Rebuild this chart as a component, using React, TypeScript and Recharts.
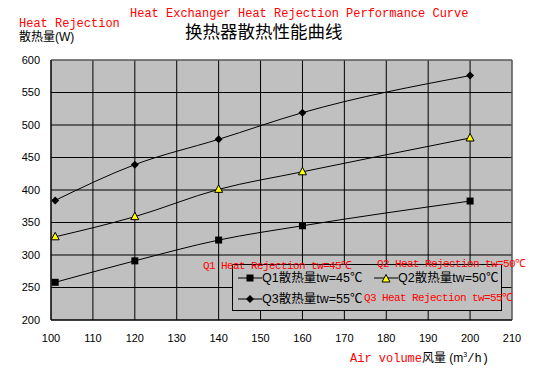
import React from "react";
import {
  LineChart,
  Line,
  XAxis,
  YAxis,
  CartesianGrid,
  ReferenceLine,
} from "recharts";

// air volume (m3/h) and heat rejection (W) per water temperature
const airVolume = [101, 120, 140, 160, 200];
const q1Values = [258, 291, 323, 345, 383];
const q2Values = [328, 359, 401, 428, 480];
const q3Values = [384, 439, 478, 519, 576];

const xTicks = [100, 110, 120, 130, 140, 150, 160, 170, 180, 190, 200, 210];
const yTicks = [200, 250, 300, 350, 400, 450, 500, 550, 600];

const chartData = airVolume.map((v, i) => ({
  air: v,
  q1: q1Values[i],
  q2: q2Values[i],
  q3: q3Values[i],
}));

const MONO = "'Liberation Mono', 'DejaVu Sans Mono', monospace";
const CJK = "'Liberation Sans', 'Noto Sans CJK SC', sans-serif";

function SquareDot(props: any) {
  const { cx, cy } = props;
  if (cx == null || cy == null) return null;
  return <rect x={cx - 3.5} y={cy - 3.5} width={7} height={7} fill="#000" />;
}

function TriangleDot(props: any) {
  const { cx, cy } = props;
  if (cx == null || cy == null) return null;
  return (
    <polygon
      points={`${cx},${cy - 4.5} ${cx - 4},${cy + 3} ${cx + 4},${cy + 3}`}
      fill="#ffff00"
      stroke="#000"
      strokeWidth={1}
    />
  );
}

function DiamondDot(props: any) {
  const { cx, cy } = props;
  if (cx == null || cy == null) return null;
  return (
    <polygon
      points={`${cx},${cy - 4} ${cx + 4},${cy} ${cx},${cy + 4} ${cx - 4},${cy}`}
      fill="#000"
    />
  );
}

function LegendIcon({ kind }: { kind: "square" | "triangle" | "diamond" }) {
  return (
    <svg width={24} height={12} style={{ display: "block" }}>
      <line x1={0} y1={6} x2={24} y2={6} stroke="#000" strokeWidth={1} />
      {kind === "square" && <SquareDot cx={12} cy={6} />}
      {kind === "triangle" && <TriangleDot cx={12} cy={7} />}
      {kind === "diamond" && <DiamondDot cx={12} cy={6} />}
    </svg>
  );
}

const abs = (left: number, top: number, extra: React.CSSProperties = {}): React.CSSProperties => ({
  position: "absolute",
  left,
  top,
  whiteSpace: "nowrap",
  lineHeight: 1,
  ...extra,
});

const redNote: React.CSSProperties = {
  color: "#ff0000",
  fontFamily: MONO,
  fontSize: 11,
  letterSpacing: -0.6,
};

export default function App() {
  const tickStyle = { fontSize: 11, fill: "#000", fontFamily: "'Liberation Sans', Arial, sans-serif" };

  return (
    <div style={{ position: "fixed", left: 0, top: 0, width: 541, height: 375, background: "#fff" }}>
      <LineChart
        width={541}
        height={375}
        data={chartData}
        margin={{ top: 60, right: 29, left: 0, bottom: 0 }}
      >
        <CartesianGrid fill="#c0c0c0" stroke="#000" strokeOpacity={1} />
        <XAxis
          dataKey="air"
          type="number"
          domain={[100, 210]}
          ticks={xTicks}
          height={55}
          tickLine={false}
          tickSize={0}
          tickMargin={14}
          axisLine={{ stroke: "#000" }}
          tick={tickStyle}
          interval={0}
        />
        <YAxis
          type="number"
          domain={[200, 600]}
          ticks={yTicks}
          width={51}
          tickLine={false}
          tickSize={0}
          tickMargin={11}
          axisLine={{ stroke: "#000" }}
          tick={tickStyle}
          interval={0}
        />
        <ReferenceLine y={600} stroke="#808080" />
        <ReferenceLine x={210} stroke="#808080" />
        <Line
          type="monotone"
          dataKey="q1"
          stroke="#000"
          strokeWidth={1}
          dot={<SquareDot />}
          activeDot={false}
          isAnimationActive={false}
        />
        <Line
          type="monotone"
          dataKey="q2"
          stroke="#000"
          strokeWidth={1}
          dot={<TriangleDot />}
          activeDot={false}
          isAnimationActive={false}
        />
        <Line
          type="monotone"
          dataKey="q3"
          stroke="#000"
          strokeWidth={1}
          dot={<DiamondDot />}
          activeDot={false}
          isAnimationActive={false}
        />
      </LineChart>

      {/* titles */}
      <div style={abs(130, 8, { color: "#ff0000", fontFamily: MONO, fontSize: 12 })}>
        Heat Exchanger Heat Rejection Performance Curve
      </div>
      <div style={abs(19, 18, { color: "#ff0000", fontFamily: MONO, fontSize: 12 })}>Heat Rejection</div>
      <div style={abs(19, 31, { color: "#000", fontFamily: CJK, fontSize: 12 })}>散热量(W)</div>
      <div style={abs(185, 24, { color: "#000", fontFamily: CJK, fontSize: 17.5 })}>换热器散热性能曲线</div>

      {/* x axis title */}
      <div style={abs(350, 351, { fontSize: 12 })}>
        <span style={{ color: "#ff0000", fontFamily: MONO }}>Air volume</span>
        <span style={{ color: "#000", fontFamily: CJK }}>风量 (m</span>
        <sup style={{ fontSize: 7, fontFamily: CJK }}>3</sup>
        <span style={{ color: "#000", fontFamily: MONO }}>/h)</span>
      </div>

      {/* legend box */}
      <div
        style={{
          position: "absolute",
          left: 232,
          top: 264,
          width: 270,
          height: 47,
          boxSizing: "border-box",
          border: "1px solid #000",
          background: "#c0c0c0",
          fontFamily: CJK,
          fontSize: 12.5,
          color: "#000",
        }}
      >
        <div style={abs(5, 7, { display: "flex", alignItems: "center" })}>
          <LegendIcon kind="square" />
          <span>Q1散热量tw=45℃</span>
        </div>
        <div style={abs(141, 7, { display: "flex", alignItems: "center" })}>
          <LegendIcon kind="triangle" />
          <span>Q2散热量tw=50℃</span>
        </div>
        <div style={abs(5, 28, { display: "flex", alignItems: "center" })}>
          <LegendIcon kind="diamond" />
          <span>Q3散热量tw=55℃</span>
        </div>
      </div>

      {/* red annotations */}
      <div style={abs(203, 261, redNote)}>Q1 Heat Rejection tw=45℃</div>
      <div style={abs(377, 259, redNote)}>Q2 Heat Rejection tw=50℃</div>
      <div style={abs(364, 293, redNote)}>Q3 Heat Rejection tw=55℃</div>
    </div>
  );
}
